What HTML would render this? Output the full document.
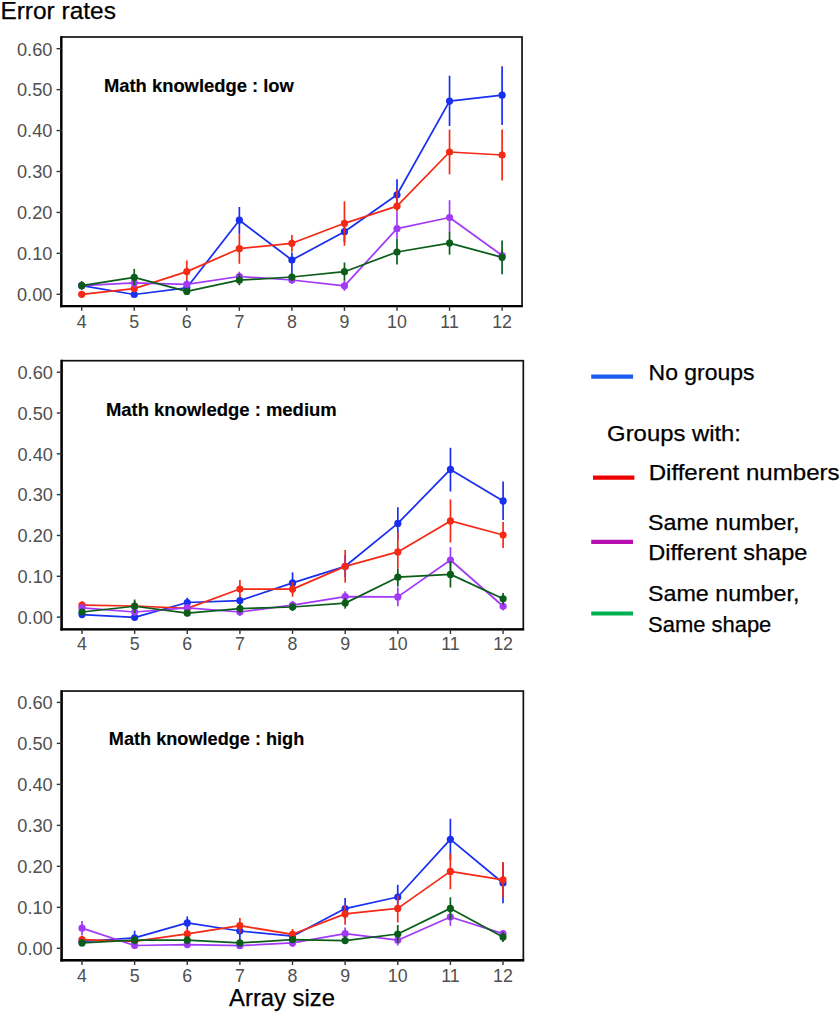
<!DOCTYPE html>
<html><head><meta charset="utf-8"><style>
html,body{margin:0;padding:0;background:#fff;}
svg{display:block;}
text{font-family:"Liberation Sans", sans-serif;}
.yt{font-size:18.2px;fill:#4f4f4f;text-anchor:end;}
.xt{font-size:17.8px;fill:#4f4f4f;text-anchor:middle;}
.pl{font-size:17px;font-weight:bold;fill:#000;}
.lg{font-size:21px;fill:#000;}
</style></head><body>
<svg width="840" height="1013" viewBox="0 0 840 1013">
<rect width="840" height="1013" fill="#fff"/>
<rect x="61.3" y="37" width="460.75" height="269.2" fill="none" stroke="#111" stroke-width="1.7"/>
<line x1="61.3" x2="61.3" y1="36.15" y2="307.35" stroke="#000" stroke-width="2.3"/>
<line x1="60.15" x2="522.9" y1="306.2" y2="306.2" stroke="#000" stroke-width="2.3"/>
<line x1="56.55" x2="61.3" y1="294.3" y2="294.3" stroke="#333" stroke-width="1.4"/>
<text x="52.4" y="301.1" class="yt">0.00</text>
<line x1="56.55" x2="61.3" y1="253.37" y2="253.37" stroke="#333" stroke-width="1.4"/>
<text x="52.4" y="260.17" class="yt">0.10</text>
<line x1="56.55" x2="61.3" y1="212.43" y2="212.43" stroke="#333" stroke-width="1.4"/>
<text x="52.4" y="219.23" class="yt">0.20</text>
<line x1="56.55" x2="61.3" y1="171.5" y2="171.5" stroke="#333" stroke-width="1.4"/>
<text x="52.4" y="178.3" class="yt">0.30</text>
<line x1="56.55" x2="61.3" y1="130.57" y2="130.57" stroke="#333" stroke-width="1.4"/>
<text x="52.4" y="137.37" class="yt">0.40</text>
<line x1="56.55" x2="61.3" y1="89.63" y2="89.63" stroke="#333" stroke-width="1.4"/>
<text x="52.4" y="96.43" class="yt">0.50</text>
<line x1="56.55" x2="61.3" y1="48.7" y2="48.7" stroke="#333" stroke-width="1.4"/>
<text x="52.4" y="55.5" class="yt">0.60</text>
<line x1="81.7" x2="81.7" y1="306.2" y2="310.85" stroke="#333" stroke-width="1.4"/>
<text x="81.7" y="327.7" class="xt">4</text>
<line x1="134.25" x2="134.25" y1="306.2" y2="310.85" stroke="#333" stroke-width="1.4"/>
<text x="134.25" y="327.7" class="xt">5</text>
<line x1="186.8" x2="186.8" y1="306.2" y2="310.85" stroke="#333" stroke-width="1.4"/>
<text x="186.8" y="327.7" class="xt">6</text>
<line x1="239.35" x2="239.35" y1="306.2" y2="310.85" stroke="#333" stroke-width="1.4"/>
<text x="239.35" y="327.7" class="xt">7</text>
<line x1="291.9" x2="291.9" y1="306.2" y2="310.85" stroke="#333" stroke-width="1.4"/>
<text x="291.9" y="327.7" class="xt">8</text>
<line x1="344.45" x2="344.45" y1="306.2" y2="310.85" stroke="#333" stroke-width="1.4"/>
<text x="344.45" y="327.7" class="xt">9</text>
<line x1="397" x2="397" y1="306.2" y2="310.85" stroke="#333" stroke-width="1.4"/>
<text x="397" y="327.7" class="xt">10</text>
<line x1="449.55" x2="449.55" y1="306.2" y2="310.85" stroke="#333" stroke-width="1.4"/>
<text x="449.55" y="327.7" class="xt">11</text>
<line x1="502.1" x2="502.1" y1="306.2" y2="310.85" stroke="#333" stroke-width="1.4"/>
<text x="502.1" y="327.7" class="xt">12</text>
<polyline points="81.7,285.7 134.25,294.5 186.8,287.8 239.35,220.2 291.9,260 344.45,231.7 397,194.8 449.55,101.1 502.1,95.2" fill="none" stroke="#1a30f0" stroke-width="1.75" stroke-linejoin="round"/>
<polyline points="81.7,294.3 134.25,288.6 186.8,271.6 239.35,248.7 291.9,243.3 344.45,223.3 397,206.2 449.55,152 502.1,155" fill="none" stroke="#f52a16" stroke-width="1.75" stroke-linejoin="round"/>
<polyline points="81.7,285.7 134.25,282.8 186.8,284.3 239.35,276.5 291.9,280 344.45,285.8 397,228.7 449.55,217.5 502.1,255.5" fill="none" stroke="#a23af7" stroke-width="1.75" stroke-linejoin="round"/>
<polyline points="81.7,285.6 134.25,277.3 186.8,291.4 239.35,280.2 291.9,277 344.45,271.7 397,252 449.55,243.1 502.1,257.3" fill="none" stroke="#0b5e1a" stroke-width="1.75" stroke-linejoin="round"/>
<circle cx="81.7" cy="285.7" r="3.6" fill="#1a30f0"/>
<circle cx="134.25" cy="294.5" r="3.6" fill="#1a30f0"/>
<circle cx="186.8" cy="287.8" r="3.6" fill="#1a30f0"/>
<circle cx="239.35" cy="220.2" r="3.6" fill="#1a30f0"/>
<circle cx="291.9" cy="260" r="3.6" fill="#1a30f0"/>
<circle cx="344.45" cy="231.7" r="3.6" fill="#1a30f0"/>
<circle cx="397" cy="194.8" r="3.6" fill="#1a30f0"/>
<circle cx="449.55" cy="101.1" r="3.6" fill="#1a30f0"/>
<circle cx="502.1" cy="95.2" r="3.6" fill="#1a30f0"/>
<line x1="81.7" x2="81.7" y1="282" y2="289" stroke="#1a30f0" stroke-width="1.7"/>
<line x1="134.25" x2="134.25" y1="292" y2="297" stroke="#1a30f0" stroke-width="1.7"/>
<line x1="186.8" x2="186.8" y1="284" y2="291" stroke="#1a30f0" stroke-width="1.7"/>
<line x1="239.35" x2="239.35" y1="207" y2="234" stroke="#1a30f0" stroke-width="1.7"/>
<line x1="291.9" x2="291.9" y1="252.5" y2="273.3" stroke="#1a30f0" stroke-width="1.7"/>
<line x1="344.45" x2="344.45" y1="222" y2="242" stroke="#1a30f0" stroke-width="1.7"/>
<line x1="397" x2="397" y1="179.3" y2="211" stroke="#1a30f0" stroke-width="1.7"/>
<line x1="449.55" x2="449.55" y1="75.7" y2="126" stroke="#1a30f0" stroke-width="1.7"/>
<line x1="502.1" x2="502.1" y1="66.2" y2="125" stroke="#1a30f0" stroke-width="1.7"/>
<circle cx="81.7" cy="294.3" r="3.6" fill="#f52a16"/>
<circle cx="134.25" cy="288.6" r="3.6" fill="#f52a16"/>
<circle cx="186.8" cy="271.6" r="3.6" fill="#f52a16"/>
<circle cx="239.35" cy="248.7" r="3.6" fill="#f52a16"/>
<circle cx="291.9" cy="243.3" r="3.6" fill="#f52a16"/>
<circle cx="344.45" cy="223.3" r="3.6" fill="#f52a16"/>
<circle cx="397" cy="206.2" r="3.6" fill="#f52a16"/>
<circle cx="449.55" cy="152" r="3.6" fill="#f52a16"/>
<circle cx="502.1" cy="155" r="3.6" fill="#f52a16"/>
<line x1="81.7" x2="81.7" y1="292" y2="296.5" stroke="#f52a16" stroke-width="1.7"/>
<line x1="134.25" x2="134.25" y1="285" y2="292" stroke="#f52a16" stroke-width="1.7"/>
<line x1="186.8" x2="186.8" y1="260.5" y2="281.7" stroke="#f52a16" stroke-width="1.7"/>
<line x1="239.35" x2="239.35" y1="234.2" y2="263.8" stroke="#f52a16" stroke-width="1.7"/>
<line x1="291.9" x2="291.9" y1="235" y2="251.7" stroke="#f52a16" stroke-width="1.7"/>
<line x1="344.45" x2="344.45" y1="201.3" y2="245.8" stroke="#f52a16" stroke-width="1.7"/>
<line x1="397" x2="397" y1="189.7" y2="211.5" stroke="#f52a16" stroke-width="1.7"/>
<line x1="449.55" x2="449.55" y1="129.6" y2="174.3" stroke="#f52a16" stroke-width="1.7"/>
<line x1="502.1" x2="502.1" y1="129.6" y2="180.5" stroke="#f52a16" stroke-width="1.7"/>
<circle cx="81.7" cy="285.7" r="3.6" fill="#a23af7"/>
<circle cx="134.25" cy="282.8" r="3.6" fill="#a23af7"/>
<circle cx="186.8" cy="284.3" r="3.6" fill="#a23af7"/>
<circle cx="239.35" cy="276.5" r="3.6" fill="#a23af7"/>
<circle cx="291.9" cy="280" r="3.6" fill="#a23af7"/>
<circle cx="344.45" cy="285.8" r="3.6" fill="#a23af7"/>
<circle cx="397" cy="228.7" r="3.6" fill="#a23af7"/>
<circle cx="449.55" cy="217.5" r="3.6" fill="#a23af7"/>
<circle cx="502.1" cy="255.5" r="3.6" fill="#a23af7"/>
<line x1="81.7" x2="81.7" y1="282" y2="289" stroke="#a23af7" stroke-width="1.7"/>
<line x1="134.25" x2="134.25" y1="279" y2="287.6" stroke="#a23af7" stroke-width="1.7"/>
<line x1="186.8" x2="186.8" y1="280" y2="288" stroke="#a23af7" stroke-width="1.7"/>
<line x1="239.35" x2="239.35" y1="271.7" y2="281" stroke="#a23af7" stroke-width="1.7"/>
<line x1="291.9" x2="291.9" y1="276" y2="284" stroke="#a23af7" stroke-width="1.7"/>
<line x1="344.45" x2="344.45" y1="281" y2="290.8" stroke="#a23af7" stroke-width="1.7"/>
<line x1="397" x2="397" y1="211.5" y2="238.6" stroke="#a23af7" stroke-width="1.7"/>
<line x1="449.55" x2="449.55" y1="200.2" y2="231.9" stroke="#a23af7" stroke-width="1.7"/>
<line x1="502.1" x2="502.1" y1="250" y2="261" stroke="#a23af7" stroke-width="1.7"/>
<circle cx="81.7" cy="285.6" r="3.6" fill="#0b5e1a"/>
<circle cx="134.25" cy="277.3" r="3.6" fill="#0b5e1a"/>
<circle cx="186.8" cy="291.4" r="3.6" fill="#0b5e1a"/>
<circle cx="239.35" cy="280.2" r="3.6" fill="#0b5e1a"/>
<circle cx="291.9" cy="277" r="3.6" fill="#0b5e1a"/>
<circle cx="344.45" cy="271.7" r="3.6" fill="#0b5e1a"/>
<circle cx="397" cy="252" r="3.6" fill="#0b5e1a"/>
<circle cx="449.55" cy="243.1" r="3.6" fill="#0b5e1a"/>
<circle cx="502.1" cy="257.3" r="3.6" fill="#0b5e1a"/>
<line x1="81.7" x2="81.7" y1="281" y2="290" stroke="#0b5e1a" stroke-width="1.7"/>
<line x1="134.25" x2="134.25" y1="268.9" y2="285.3" stroke="#0b5e1a" stroke-width="1.7"/>
<line x1="186.8" x2="186.8" y1="288" y2="295" stroke="#0b5e1a" stroke-width="1.7"/>
<line x1="239.35" x2="239.35" y1="274" y2="285.3" stroke="#0b5e1a" stroke-width="1.7"/>
<line x1="291.9" x2="291.9" y1="273" y2="281" stroke="#0b5e1a" stroke-width="1.7"/>
<line x1="344.45" x2="344.45" y1="262.5" y2="280.8" stroke="#0b5e1a" stroke-width="1.7"/>
<line x1="397" x2="397" y1="238.6" y2="264.5" stroke="#0b5e1a" stroke-width="1.7"/>
<line x1="449.55" x2="449.55" y1="231.9" y2="254.6" stroke="#0b5e1a" stroke-width="1.7"/>
<line x1="502.1" x2="502.1" y1="240.4" y2="274.3" stroke="#0b5e1a" stroke-width="1.7"/>
<rect x="61.6" y="360.7" width="461.7" height="268.6" fill="none" stroke="#111" stroke-width="1.7"/>
<line x1="61.6" x2="61.6" y1="359.85" y2="630.45" stroke="#000" stroke-width="2.4"/>
<line x1="60.4" x2="524.15" y1="629.3" y2="629.3" stroke="#000" stroke-width="2.3"/>
<line x1="56.8" x2="61.6" y1="617.1" y2="617.1" stroke="#333" stroke-width="1.4"/>
<text x="52.9" y="623.9" class="yt">0.00</text>
<line x1="56.8" x2="61.6" y1="576.28" y2="576.28" stroke="#333" stroke-width="1.4"/>
<text x="52.9" y="583.08" class="yt">0.10</text>
<line x1="56.8" x2="61.6" y1="535.47" y2="535.47" stroke="#333" stroke-width="1.4"/>
<text x="52.9" y="542.27" class="yt">0.20</text>
<line x1="56.8" x2="61.6" y1="494.65" y2="494.65" stroke="#333" stroke-width="1.4"/>
<text x="52.9" y="501.45" class="yt">0.30</text>
<line x1="56.8" x2="61.6" y1="453.83" y2="453.83" stroke="#333" stroke-width="1.4"/>
<text x="52.9" y="460.63" class="yt">0.40</text>
<line x1="56.8" x2="61.6" y1="413.02" y2="413.02" stroke="#333" stroke-width="1.4"/>
<text x="52.9" y="419.82" class="yt">0.50</text>
<line x1="56.8" x2="61.6" y1="372.2" y2="372.2" stroke="#333" stroke-width="1.4"/>
<text x="52.9" y="379" class="yt">0.60</text>
<line x1="82" x2="82" y1="629.3" y2="633.95" stroke="#333" stroke-width="1.4"/>
<text x="82" y="650.2" class="xt">4</text>
<line x1="134.64" x2="134.64" y1="629.3" y2="633.95" stroke="#333" stroke-width="1.4"/>
<text x="134.64" y="650.2" class="xt">5</text>
<line x1="187.28" x2="187.28" y1="629.3" y2="633.95" stroke="#333" stroke-width="1.4"/>
<text x="187.28" y="650.2" class="xt">6</text>
<line x1="239.91" x2="239.91" y1="629.3" y2="633.95" stroke="#333" stroke-width="1.4"/>
<text x="239.91" y="650.2" class="xt">7</text>
<line x1="292.55" x2="292.55" y1="629.3" y2="633.95" stroke="#333" stroke-width="1.4"/>
<text x="292.55" y="650.2" class="xt">8</text>
<line x1="345.19" x2="345.19" y1="629.3" y2="633.95" stroke="#333" stroke-width="1.4"/>
<text x="345.19" y="650.2" class="xt">9</text>
<line x1="397.83" x2="397.83" y1="629.3" y2="633.95" stroke="#333" stroke-width="1.4"/>
<text x="397.83" y="650.2" class="xt">10</text>
<line x1="450.46" x2="450.46" y1="629.3" y2="633.95" stroke="#333" stroke-width="1.4"/>
<text x="450.46" y="650.2" class="xt">11</text>
<line x1="503.1" x2="503.1" y1="629.3" y2="633.95" stroke="#333" stroke-width="1.4"/>
<text x="503.1" y="650.2" class="xt">12</text>
<polyline points="82,614.6 134.64,617.3 187.28,602.5 239.91,600.6 292.55,582.9 345.19,566.3 397.83,523.4 450.46,469.4 503.1,500.9" fill="none" stroke="#1a30f0" stroke-width="1.75" stroke-linejoin="round"/>
<polyline points="82,605.2 134.64,606 187.28,608.4 239.91,589 292.55,589.1 345.19,566.4 397.83,551.9 450.46,520.9 503.1,535" fill="none" stroke="#f52a16" stroke-width="1.75" stroke-linejoin="round"/>
<polyline points="82,607.9 134.64,612 187.28,607.9 239.91,612 292.55,605.1 345.19,596.6 397.83,596.9 450.46,560 503.1,606.25" fill="none" stroke="#a23af7" stroke-width="1.75" stroke-linejoin="round"/>
<polyline points="82,612 134.64,606.25 187.28,613.2 239.91,608.6 292.55,607 345.19,603.1 397.83,577.2 450.46,574.4 503.1,598.75" fill="none" stroke="#0b5e1a" stroke-width="1.75" stroke-linejoin="round"/>
<circle cx="82" cy="614.6" r="3.6" fill="#1a30f0"/>
<circle cx="134.64" cy="617.3" r="3.6" fill="#1a30f0"/>
<circle cx="187.28" cy="602.5" r="3.6" fill="#1a30f0"/>
<circle cx="239.91" cy="600.6" r="3.6" fill="#1a30f0"/>
<circle cx="292.55" cy="582.9" r="3.6" fill="#1a30f0"/>
<circle cx="345.19" cy="566.3" r="3.6" fill="#1a30f0"/>
<circle cx="397.83" cy="523.4" r="3.6" fill="#1a30f0"/>
<circle cx="450.46" cy="469.4" r="3.6" fill="#1a30f0"/>
<circle cx="503.1" cy="500.9" r="3.6" fill="#1a30f0"/>
<line x1="82" x2="82" y1="611" y2="618" stroke="#1a30f0" stroke-width="1.7"/>
<line x1="134.64" x2="134.64" y1="614" y2="620.5" stroke="#1a30f0" stroke-width="1.7"/>
<line x1="187.28" x2="187.28" y1="597.7" y2="607.3" stroke="#1a30f0" stroke-width="1.7"/>
<line x1="239.91" x2="239.91" y1="596" y2="605" stroke="#1a30f0" stroke-width="1.7"/>
<line x1="292.55" x2="292.55" y1="572.4" y2="593.4" stroke="#1a30f0" stroke-width="1.7"/>
<line x1="345.19" x2="345.19" y1="555" y2="577" stroke="#1a30f0" stroke-width="1.7"/>
<line x1="397.83" x2="397.83" y1="507.25" y2="539.5" stroke="#1a30f0" stroke-width="1.7"/>
<line x1="450.46" x2="450.46" y1="447.8" y2="491.5" stroke="#1a30f0" stroke-width="1.7"/>
<line x1="503.1" x2="503.1" y1="481.6" y2="520" stroke="#1a30f0" stroke-width="1.7"/>
<circle cx="82" cy="605.2" r="3.6" fill="#f52a16"/>
<circle cx="134.64" cy="606" r="3.6" fill="#f52a16"/>
<circle cx="187.28" cy="608.4" r="3.6" fill="#f52a16"/>
<circle cx="239.91" cy="589" r="3.6" fill="#f52a16"/>
<circle cx="292.55" cy="589.1" r="3.6" fill="#f52a16"/>
<circle cx="345.19" cy="566.4" r="3.6" fill="#f52a16"/>
<circle cx="397.83" cy="551.9" r="3.6" fill="#f52a16"/>
<circle cx="450.46" cy="520.9" r="3.6" fill="#f52a16"/>
<circle cx="503.1" cy="535" r="3.6" fill="#f52a16"/>
<line x1="82" x2="82" y1="601.3" y2="609" stroke="#f52a16" stroke-width="1.7"/>
<line x1="134.64" x2="134.64" y1="601" y2="611" stroke="#f52a16" stroke-width="1.7"/>
<line x1="187.28" x2="187.28" y1="604" y2="612.8" stroke="#f52a16" stroke-width="1.7"/>
<line x1="239.91" x2="239.91" y1="580" y2="597.5" stroke="#f52a16" stroke-width="1.7"/>
<line x1="292.55" x2="292.55" y1="582" y2="596.7" stroke="#f52a16" stroke-width="1.7"/>
<line x1="345.19" x2="345.19" y1="549.9" y2="582.6" stroke="#f52a16" stroke-width="1.7"/>
<line x1="397.83" x2="397.83" y1="532.2" y2="568.75" stroke="#f52a16" stroke-width="1.7"/>
<line x1="450.46" x2="450.46" y1="499.4" y2="542.5" stroke="#f52a16" stroke-width="1.7"/>
<line x1="503.1" x2="503.1" y1="521.9" y2="548.1" stroke="#f52a16" stroke-width="1.7"/>
<circle cx="82" cy="607.9" r="3.6" fill="#a23af7"/>
<circle cx="134.64" cy="612" r="3.6" fill="#a23af7"/>
<circle cx="187.28" cy="607.9" r="3.6" fill="#a23af7"/>
<circle cx="239.91" cy="612" r="3.6" fill="#a23af7"/>
<circle cx="292.55" cy="605.1" r="3.6" fill="#a23af7"/>
<circle cx="345.19" cy="596.6" r="3.6" fill="#a23af7"/>
<circle cx="397.83" cy="596.9" r="3.6" fill="#a23af7"/>
<circle cx="450.46" cy="560" r="3.6" fill="#a23af7"/>
<circle cx="503.1" cy="606.25" r="3.6" fill="#a23af7"/>
<line x1="82" x2="82" y1="604" y2="612" stroke="#a23af7" stroke-width="1.7"/>
<line x1="134.64" x2="134.64" y1="608" y2="616" stroke="#a23af7" stroke-width="1.7"/>
<line x1="187.28" x2="187.28" y1="604" y2="612" stroke="#a23af7" stroke-width="1.7"/>
<line x1="239.91" x2="239.91" y1="608" y2="616" stroke="#a23af7" stroke-width="1.7"/>
<line x1="292.55" x2="292.55" y1="601" y2="609" stroke="#a23af7" stroke-width="1.7"/>
<line x1="345.19" x2="345.19" y1="591.3" y2="601.9" stroke="#a23af7" stroke-width="1.7"/>
<line x1="397.83" x2="397.83" y1="587.5" y2="606.25" stroke="#a23af7" stroke-width="1.7"/>
<line x1="450.46" x2="450.46" y1="547.2" y2="572.8" stroke="#a23af7" stroke-width="1.7"/>
<line x1="503.1" x2="503.1" y1="602" y2="610.5" stroke="#a23af7" stroke-width="1.7"/>
<circle cx="82" cy="612" r="3.6" fill="#0b5e1a"/>
<circle cx="134.64" cy="606.25" r="3.6" fill="#0b5e1a"/>
<circle cx="187.28" cy="613.2" r="3.6" fill="#0b5e1a"/>
<circle cx="239.91" cy="608.6" r="3.6" fill="#0b5e1a"/>
<circle cx="292.55" cy="607" r="3.6" fill="#0b5e1a"/>
<circle cx="345.19" cy="603.1" r="3.6" fill="#0b5e1a"/>
<circle cx="397.83" cy="577.2" r="3.6" fill="#0b5e1a"/>
<circle cx="450.46" cy="574.4" r="3.6" fill="#0b5e1a"/>
<circle cx="503.1" cy="598.75" r="3.6" fill="#0b5e1a"/>
<line x1="82" x2="82" y1="609" y2="615" stroke="#0b5e1a" stroke-width="1.7"/>
<line x1="134.64" x2="134.64" y1="599.5" y2="613" stroke="#0b5e1a" stroke-width="1.7"/>
<line x1="187.28" x2="187.28" y1="610" y2="616.4" stroke="#0b5e1a" stroke-width="1.7"/>
<line x1="239.91" x2="239.91" y1="604" y2="613" stroke="#0b5e1a" stroke-width="1.7"/>
<line x1="292.55" x2="292.55" y1="603" y2="611" stroke="#0b5e1a" stroke-width="1.7"/>
<line x1="345.19" x2="345.19" y1="598" y2="608.7" stroke="#0b5e1a" stroke-width="1.7"/>
<line x1="397.83" x2="397.83" y1="568.75" y2="586.6" stroke="#0b5e1a" stroke-width="1.7"/>
<line x1="450.46" x2="450.46" y1="561.25" y2="587.5" stroke="#0b5e1a" stroke-width="1.7"/>
<line x1="503.1" x2="503.1" y1="593.1" y2="604.4" stroke="#0b5e1a" stroke-width="1.7"/>
<rect x="61.6" y="691.05" width="461.75" height="269.25" fill="none" stroke="#111" stroke-width="1.7"/>
<line x1="61.6" x2="61.6" y1="690.2" y2="961.5" stroke="#000" stroke-width="2.4"/>
<line x1="60.4" x2="524.2" y1="960.3" y2="960.3" stroke="#000" stroke-width="2.4"/>
<line x1="56.8" x2="61.6" y1="948.3" y2="948.3" stroke="#333" stroke-width="1.4"/>
<text x="52.7" y="955.1" class="yt">0.00</text>
<line x1="56.8" x2="61.6" y1="907.32" y2="907.32" stroke="#333" stroke-width="1.4"/>
<text x="52.7" y="914.12" class="yt">0.10</text>
<line x1="56.8" x2="61.6" y1="866.33" y2="866.33" stroke="#333" stroke-width="1.4"/>
<text x="52.7" y="873.13" class="yt">0.20</text>
<line x1="56.8" x2="61.6" y1="825.35" y2="825.35" stroke="#333" stroke-width="1.4"/>
<text x="52.7" y="832.15" class="yt">0.30</text>
<line x1="56.8" x2="61.6" y1="784.37" y2="784.37" stroke="#333" stroke-width="1.4"/>
<text x="52.7" y="791.17" class="yt">0.40</text>
<line x1="56.8" x2="61.6" y1="743.38" y2="743.38" stroke="#333" stroke-width="1.4"/>
<text x="52.7" y="750.18" class="yt">0.50</text>
<line x1="56.8" x2="61.6" y1="702.4" y2="702.4" stroke="#333" stroke-width="1.4"/>
<text x="52.7" y="709.2" class="yt">0.60</text>
<line x1="82" x2="82" y1="960.3" y2="965" stroke="#333" stroke-width="1.4"/>
<text x="82" y="981.7" class="xt">4</text>
<line x1="134.62" x2="134.62" y1="960.3" y2="965" stroke="#333" stroke-width="1.4"/>
<text x="134.62" y="981.7" class="xt">5</text>
<line x1="187.25" x2="187.25" y1="960.3" y2="965" stroke="#333" stroke-width="1.4"/>
<text x="187.25" y="981.7" class="xt">6</text>
<line x1="239.88" x2="239.88" y1="960.3" y2="965" stroke="#333" stroke-width="1.4"/>
<text x="239.88" y="981.7" class="xt">7</text>
<line x1="292.5" x2="292.5" y1="960.3" y2="965" stroke="#333" stroke-width="1.4"/>
<text x="292.5" y="981.7" class="xt">8</text>
<line x1="345.12" x2="345.12" y1="960.3" y2="965" stroke="#333" stroke-width="1.4"/>
<text x="345.12" y="981.7" class="xt">9</text>
<line x1="397.75" x2="397.75" y1="960.3" y2="965" stroke="#333" stroke-width="1.4"/>
<text x="397.75" y="981.7" class="xt">10</text>
<line x1="450.38" x2="450.38" y1="960.3" y2="965" stroke="#333" stroke-width="1.4"/>
<text x="450.38" y="981.7" class="xt">11</text>
<line x1="503" x2="503" y1="960.3" y2="965" stroke="#333" stroke-width="1.4"/>
<text x="503" y="981.7" class="xt">12</text>
<polyline points="82,941.5 134.62,937.9 187.25,922.9 239.88,931 292.5,936.2 345.12,908.6 397.75,897 450.38,839.3 503,883" fill="none" stroke="#1a30f0" stroke-width="1.75" stroke-linejoin="round"/>
<polyline points="82,939.6 134.62,941.4 187.25,933.9 239.88,925.7 292.5,934.3 345.12,913.9 397.75,908.4 450.38,871.4 503,879.8" fill="none" stroke="#f52a16" stroke-width="1.75" stroke-linejoin="round"/>
<polyline points="82,928.2 134.62,945.5 187.25,944.6 239.88,945.7 292.5,942.9 345.12,933.7 397.75,940.2 450.38,917 503,933.6" fill="none" stroke="#a23af7" stroke-width="1.75" stroke-linejoin="round"/>
<polyline points="82,942.9 134.62,940.2 187.25,940.2 239.88,942.9 292.5,939.6 345.12,940.6 397.75,934 450.38,908.4 503,937.1" fill="none" stroke="#0b5e1a" stroke-width="1.75" stroke-linejoin="round"/>
<circle cx="82" cy="941.5" r="3.6" fill="#1a30f0"/>
<circle cx="134.62" cy="937.9" r="3.6" fill="#1a30f0"/>
<circle cx="187.25" cy="922.9" r="3.6" fill="#1a30f0"/>
<circle cx="239.88" cy="931" r="3.6" fill="#1a30f0"/>
<circle cx="292.5" cy="936.2" r="3.6" fill="#1a30f0"/>
<circle cx="345.12" cy="908.6" r="3.6" fill="#1a30f0"/>
<circle cx="397.75" cy="897" r="3.6" fill="#1a30f0"/>
<circle cx="450.38" cy="839.3" r="3.6" fill="#1a30f0"/>
<circle cx="503" cy="883" r="3.6" fill="#1a30f0"/>
<line x1="82" x2="82" y1="938" y2="945" stroke="#1a30f0" stroke-width="1.7"/>
<line x1="134.62" x2="134.62" y1="930.7" y2="945" stroke="#1a30f0" stroke-width="1.7"/>
<line x1="187.25" x2="187.25" y1="916.4" y2="929.5" stroke="#1a30f0" stroke-width="1.7"/>
<line x1="239.88" x2="239.88" y1="923" y2="939" stroke="#1a30f0" stroke-width="1.7"/>
<line x1="292.5" x2="292.5" y1="932" y2="940.4" stroke="#1a30f0" stroke-width="1.7"/>
<line x1="345.12" x2="345.12" y1="898.1" y2="919" stroke="#1a30f0" stroke-width="1.7"/>
<line x1="397.75" x2="397.75" y1="884.8" y2="909" stroke="#1a30f0" stroke-width="1.7"/>
<line x1="450.38" x2="450.38" y1="818.75" y2="859.8" stroke="#1a30f0" stroke-width="1.7"/>
<line x1="503" x2="503" y1="863" y2="903.2" stroke="#1a30f0" stroke-width="1.7"/>
<circle cx="82" cy="939.6" r="3.6" fill="#f52a16"/>
<circle cx="134.62" cy="941.4" r="3.6" fill="#f52a16"/>
<circle cx="187.25" cy="933.9" r="3.6" fill="#f52a16"/>
<circle cx="239.88" cy="925.7" r="3.6" fill="#f52a16"/>
<circle cx="292.5" cy="934.3" r="3.6" fill="#f52a16"/>
<circle cx="345.12" cy="913.9" r="3.6" fill="#f52a16"/>
<circle cx="397.75" cy="908.4" r="3.6" fill="#f52a16"/>
<circle cx="450.38" cy="871.4" r="3.6" fill="#f52a16"/>
<circle cx="503" cy="879.8" r="3.6" fill="#f52a16"/>
<line x1="82" x2="82" y1="936" y2="943" stroke="#f52a16" stroke-width="1.7"/>
<line x1="134.62" x2="134.62" y1="938" y2="945" stroke="#f52a16" stroke-width="1.7"/>
<line x1="187.25" x2="187.25" y1="929" y2="939" stroke="#f52a16" stroke-width="1.7"/>
<line x1="239.88" x2="239.88" y1="918.1" y2="933.3" stroke="#f52a16" stroke-width="1.7"/>
<line x1="292.5" x2="292.5" y1="929.1" y2="939.5" stroke="#f52a16" stroke-width="1.7"/>
<line x1="345.12" x2="345.12" y1="905" y2="924.7" stroke="#f52a16" stroke-width="1.7"/>
<line x1="397.75" x2="397.75" y1="895.5" y2="922.5" stroke="#f52a16" stroke-width="1.7"/>
<line x1="450.38" x2="450.38" y1="853.6" y2="889.2" stroke="#f52a16" stroke-width="1.7"/>
<line x1="503" x2="503" y1="862.1" y2="897.5" stroke="#f52a16" stroke-width="1.7"/>
<circle cx="82" cy="928.2" r="3.6" fill="#a23af7"/>
<circle cx="134.62" cy="945.5" r="3.6" fill="#a23af7"/>
<circle cx="187.25" cy="944.6" r="3.6" fill="#a23af7"/>
<circle cx="239.88" cy="945.7" r="3.6" fill="#a23af7"/>
<circle cx="292.5" cy="942.9" r="3.6" fill="#a23af7"/>
<circle cx="345.12" cy="933.7" r="3.6" fill="#a23af7"/>
<circle cx="397.75" cy="940.2" r="3.6" fill="#a23af7"/>
<circle cx="450.38" cy="917" r="3.6" fill="#a23af7"/>
<circle cx="503" cy="933.6" r="3.6" fill="#a23af7"/>
<line x1="82" x2="82" y1="921" y2="935.4" stroke="#a23af7" stroke-width="1.7"/>
<line x1="134.62" x2="134.62" y1="942" y2="949" stroke="#a23af7" stroke-width="1.7"/>
<line x1="187.25" x2="187.25" y1="941" y2="948" stroke="#a23af7" stroke-width="1.7"/>
<line x1="239.88" x2="239.88" y1="942" y2="949" stroke="#a23af7" stroke-width="1.7"/>
<line x1="292.5" x2="292.5" y1="939" y2="946.8" stroke="#a23af7" stroke-width="1.7"/>
<line x1="345.12" x2="345.12" y1="927.6" y2="939.8" stroke="#a23af7" stroke-width="1.7"/>
<line x1="397.75" x2="397.75" y1="935" y2="945.5" stroke="#a23af7" stroke-width="1.7"/>
<line x1="450.38" x2="450.38" y1="911" y2="925.9" stroke="#a23af7" stroke-width="1.7"/>
<line x1="503" x2="503" y1="930" y2="937" stroke="#a23af7" stroke-width="1.7"/>
<circle cx="82" cy="942.9" r="3.6" fill="#0b5e1a"/>
<circle cx="134.62" cy="940.2" r="3.6" fill="#0b5e1a"/>
<circle cx="187.25" cy="940.2" r="3.6" fill="#0b5e1a"/>
<circle cx="239.88" cy="942.9" r="3.6" fill="#0b5e1a"/>
<circle cx="292.5" cy="939.6" r="3.6" fill="#0b5e1a"/>
<circle cx="345.12" cy="940.6" r="3.6" fill="#0b5e1a"/>
<circle cx="397.75" cy="934" r="3.6" fill="#0b5e1a"/>
<circle cx="450.38" cy="908.4" r="3.6" fill="#0b5e1a"/>
<circle cx="503" cy="937.1" r="3.6" fill="#0b5e1a"/>
<line x1="82" x2="82" y1="939.5" y2="946.3" stroke="#0b5e1a" stroke-width="1.7"/>
<line x1="134.62" x2="134.62" y1="936" y2="944.4" stroke="#0b5e1a" stroke-width="1.7"/>
<line x1="187.25" x2="187.25" y1="936" y2="944.4" stroke="#0b5e1a" stroke-width="1.7"/>
<line x1="239.88" x2="239.88" y1="939" y2="946.8" stroke="#0b5e1a" stroke-width="1.7"/>
<line x1="292.5" x2="292.5" y1="936" y2="943.2" stroke="#0b5e1a" stroke-width="1.7"/>
<line x1="345.12" x2="345.12" y1="936" y2="943.8" stroke="#0b5e1a" stroke-width="1.7"/>
<line x1="397.75" x2="397.75" y1="925" y2="943" stroke="#0b5e1a" stroke-width="1.7"/>
<line x1="450.38" x2="450.38" y1="897.3" y2="919.5" stroke="#0b5e1a" stroke-width="1.7"/>
<line x1="503" x2="503" y1="932" y2="942" stroke="#0b5e1a" stroke-width="1.7"/>

<line x1="591.2" x2="633.1" y1="376.7" y2="376.7" stroke="#1c5cf0" stroke-width="4.2"/>
<line x1="593" x2="634.4" y1="477.7" y2="477.7" stroke="#ee0000" stroke-width="4.2"/>
<line x1="591.2" x2="633" y1="541.85" y2="541.85" stroke="#b80fb2" stroke-width="4.1"/>
<line x1="591.2" x2="633" y1="613.5" y2="613.5" stroke="#00b050" stroke-width="4.1"/>
<text x="0.4" y="19.0" style="font-size:24.5px;font-weight:normal;stroke:#000;stroke-width:0.25px" textLength="115.56" lengthAdjust="spacingAndGlyphs">Error rates</text>
<text x="229.1" y="1005.8" style="font-size:24.0px;font-weight:normal;stroke:#000;stroke-width:0.25px" textLength="105.88" lengthAdjust="spacingAndGlyphs">Array size</text>
<text x="648.6" y="379.7" style="font-size:22.3px;font-weight:normal;stroke:#000;stroke-width:0.25px" textLength="106.0" lengthAdjust="spacingAndGlyphs">No groups</text>
<text x="607.13" y="440.7" style="font-size:22.3px;font-weight:normal;stroke:#000;stroke-width:0.25px" textLength="133.89" lengthAdjust="spacingAndGlyphs">Groups with:</text>
<text x="648.71" y="480.0" style="font-size:22.3px;font-weight:normal;stroke:#000;stroke-width:0.25px" textLength="190.87" lengthAdjust="spacingAndGlyphs">Different numbers</text>
<text x="647.96" y="529.5" style="font-size:22.3px;font-weight:normal;stroke:#000;stroke-width:0.25px" textLength="151.45" lengthAdjust="spacingAndGlyphs">Same number,</text>
<text x="648.15" y="560.3" style="font-size:22.3px;font-weight:normal;stroke:#000;stroke-width:0.25px" textLength="159.27" lengthAdjust="spacingAndGlyphs">Different shape</text>
<text x="647.96" y="601.2" style="font-size:22.3px;font-weight:normal;stroke:#000;stroke-width:0.25px" textLength="151.45" lengthAdjust="spacingAndGlyphs">Same number,</text>
<text x="648.02" y="631.5" style="font-size:22.3px;font-weight:normal;stroke:#000;stroke-width:0.25px" textLength="123.32" lengthAdjust="spacingAndGlyphs">Same shape</text>
<text x="103.99" y="91.6" style="font-size:19.0px;font-weight:bold;stroke:#000;stroke-width:0.15px" textLength="189.85" lengthAdjust="spacingAndGlyphs">Math knowledge : low</text>
<text x="105.89" y="416.4" style="font-size:19.0px;font-weight:bold;stroke:#000;stroke-width:0.15px" textLength="230.86" lengthAdjust="spacingAndGlyphs">Math knowledge : medium</text>
<text x="108.81" y="744.6" style="font-size:19.0px;font-weight:bold;stroke:#000;stroke-width:0.15px" textLength="195.48" lengthAdjust="spacingAndGlyphs">Math knowledge : high</text>

</svg>
</body></html>
